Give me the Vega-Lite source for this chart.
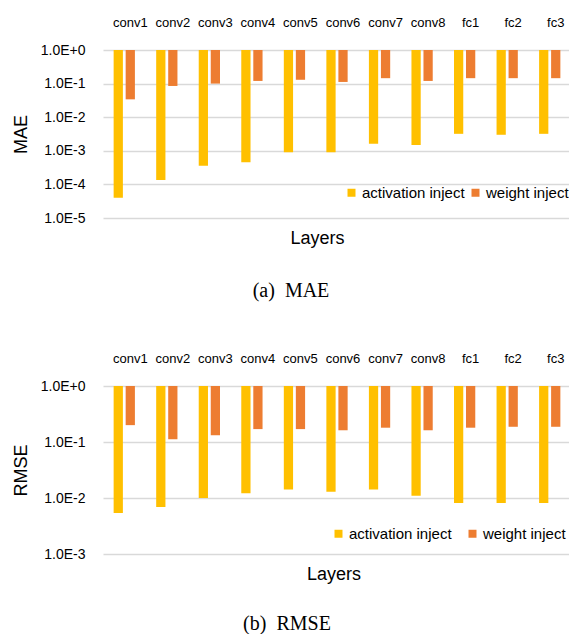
{
  "$schema": "https://vega.github.io/schema/vega-lite/v6.json",
  "background": "white",
  "padding": {"left": 12, "top": 16, "right": 0, "bottom": 0},
  "bounds": "flush",
  "spacing": 168,
  "config": {
    "view": {"stroke": null},
    "font": "Liberation Sans",
    "axis": {"labelFont": "Liberation Sans", "titleFont": "Liberation Sans", "labelColor": "#000", "titleColor": "#000", "titleFontWeight": "normal"},
    "legend": {"labelFont": "Liberation Sans", "labelColor": "#000"}
  },
  "data": {"values": [
    {"metric": "MAE", "layer": "conv1", "series": "activation inject", "value": 0.00004},
    {"metric": "MAE", "layer": "conv2", "series": "activation inject", "value": 0.000135},
    {"metric": "MAE", "layer": "conv3", "series": "activation inject", "value": 0.00036},
    {"metric": "MAE", "layer": "conv4", "series": "activation inject", "value": 0.00046},
    {"metric": "MAE", "layer": "conv5", "series": "activation inject", "value": 0.00091},
    {"metric": "MAE", "layer": "conv6", "series": "activation inject", "value": 0.0009},
    {"metric": "MAE", "layer": "conv7", "series": "activation inject", "value": 0.00163},
    {"metric": "MAE", "layer": "conv8", "series": "activation inject", "value": 0.0015},
    {"metric": "MAE", "layer": "fc1", "series": "activation inject", "value": 0.0032},
    {"metric": "MAE", "layer": "fc2", "series": "activation inject", "value": 0.003},
    {"metric": "MAE", "layer": "fc3", "series": "activation inject", "value": 0.0032},
    {"metric": "MAE", "layer": "conv1", "series": "weight inject", "value": 0.034},
    {"metric": "MAE", "layer": "conv2", "series": "weight inject", "value": 0.085},
    {"metric": "MAE", "layer": "conv3", "series": "weight inject", "value": 0.1},
    {"metric": "MAE", "layer": "conv4", "series": "weight inject", "value": 0.12},
    {"metric": "MAE", "layer": "conv5", "series": "weight inject", "value": 0.13},
    {"metric": "MAE", "layer": "conv6", "series": "weight inject", "value": 0.112},
    {"metric": "MAE", "layer": "conv7", "series": "weight inject", "value": 0.145},
    {"metric": "MAE", "layer": "conv8", "series": "weight inject", "value": 0.12},
    {"metric": "MAE", "layer": "fc1", "series": "weight inject", "value": 0.145},
    {"metric": "MAE", "layer": "fc2", "series": "weight inject", "value": 0.145},
    {"metric": "MAE", "layer": "fc3", "series": "weight inject", "value": 0.145},
    {"metric": "RMSE", "layer": "conv1", "series": "activation inject", "value": 0.0054},
    {"metric": "RMSE", "layer": "conv2", "series": "activation inject", "value": 0.0069},
    {"metric": "RMSE", "layer": "conv3", "series": "activation inject", "value": 0.01},
    {"metric": "RMSE", "layer": "conv4", "series": "activation inject", "value": 0.0122},
    {"metric": "RMSE", "layer": "conv5", "series": "activation inject", "value": 0.0142},
    {"metric": "RMSE", "layer": "conv6", "series": "activation inject", "value": 0.0129},
    {"metric": "RMSE", "layer": "conv7", "series": "activation inject", "value": 0.0142},
    {"metric": "RMSE", "layer": "conv8", "series": "activation inject", "value": 0.011},
    {"metric": "RMSE", "layer": "fc1", "series": "activation inject", "value": 0.0081},
    {"metric": "RMSE", "layer": "fc2", "series": "activation inject", "value": 0.0081},
    {"metric": "RMSE", "layer": "fc3", "series": "activation inject", "value": 0.0081},
    {"metric": "RMSE", "layer": "conv1", "series": "weight inject", "value": 0.2},
    {"metric": "RMSE", "layer": "conv2", "series": "weight inject", "value": 0.112},
    {"metric": "RMSE", "layer": "conv3", "series": "weight inject", "value": 0.132},
    {"metric": "RMSE", "layer": "conv4", "series": "weight inject", "value": 0.17},
    {"metric": "RMSE", "layer": "conv5", "series": "weight inject", "value": 0.17},
    {"metric": "RMSE", "layer": "conv6", "series": "weight inject", "value": 0.162},
    {"metric": "RMSE", "layer": "conv7", "series": "weight inject", "value": 0.18},
    {"metric": "RMSE", "layer": "conv8", "series": "weight inject", "value": 0.162},
    {"metric": "RMSE", "layer": "fc1", "series": "weight inject", "value": 0.18},
    {"metric": "RMSE", "layer": "fc2", "series": "weight inject", "value": 0.187},
    {"metric": "RMSE", "layer": "fc3", "series": "weight inject", "value": 0.187}
  ]},
  "resolve": {"scale": {"y": "independent", "color": "independent"}, "legend": {"color": "independent"}},
  "vconcat": [
    {
      "width": 468, "height": 168,
      "transform": [{"filter": "datum.metric === 'MAE'"}],
      "title": {"text": "(a) \u00a0MAE", "orient": "bottom", "font": "Liberation Serif", "fontSize": 20, "fontWeight": "normal", "color": "#000", "anchor": "middle", "dx": -46, "offset": 33},
      "mark": {"type": "bar"},
      "encoding": {
        "x": {"field": "layer", "type": "nominal", "sort": null,
          "scale": {"paddingInner": 0.5, "paddingOuter": 0.25},
          "axis": {"orient": "top", "labelAngle": 0, "labelAlign": "center", "labelBaseline": "alphabetic", "labelOffset": 6, "labelFontSize": 13, "labelPadding": 24, "labelOverlap": false, "ticks": false, "domain": false,
            "title": "Layers", "titleFontSize": 18, "titleX": 214, "titleY": 193.5, "titleAlign": "center", "titleBaseline": "alphabetic"}},
        "xOffset": {"field": "series", "type": "nominal", "sort": ["activation inject", "weight inject"], "scale": {"paddingInner": 0.23, "paddingOuter": 0}},
        "y": {"field": "value", "type": "quantitative",
          "scale": {"type": "log", "domain": [0.00001, 1], "nice": false},
          "axis": {"values": [1, 0.1, 0.01, 0.001, 0.0001, 0.00001], "labelExpr": "replace(format(datum.value, '.1e'), 'e', 'E')", "labelFontSize": 14, "labelPadding": 18, "ticks": false, "domain": false, "grid": true, "gridColor": "#d9d9d9", "gridWidth": 1.3,
            "title": "MAE", "titleFontSize": 18, "titlePadding": 10}},
        "y2": {"datum": 1},
        "color": {"field": "series", "type": "nominal",
          "scale": {"domain": ["activation inject", "weight inject"], "range": ["#FFC000", "#ED7D31"]},
          "legend": {"orient": "none", "legendX": 241, "legendY": 135, "direction": "horizontal", "title": null, "symbolType": "square", "symbolSize": 64, "symbolStrokeWidth": 0, "symbolOpacity": 1, "labelFontSize": 15, "labelOffset": 3, "columnPadding": 3}}
      }
    },
    {
      "width": 468, "height": 168,
      "transform": [{"filter": "datum.metric === 'RMSE'"}],
      "title": {"text": "(b) \u00a0RMSE", "orient": "bottom", "font": "Liberation Serif", "fontSize": 20, "fontWeight": "normal", "color": "#000", "anchor": "middle", "dx": -50, "offset": 30},
      "mark": {"type": "bar"},
      "encoding": {
        "x": {"field": "layer", "type": "nominal", "sort": null,
          "scale": {"paddingInner": 0.5, "paddingOuter": 0.25},
          "axis": {"orient": "top", "labelAngle": 0, "labelAlign": "center", "labelBaseline": "alphabetic", "labelOffset": 6, "labelFontSize": 13, "labelPadding": 24, "labelOverlap": false, "ticks": false, "domain": false,
            "title": "Layers", "titleFontSize": 18, "titleX": 230.5, "titleY": 193.5, "titleAlign": "center", "titleBaseline": "alphabetic"}},
        "xOffset": {"field": "series", "type": "nominal", "sort": ["activation inject", "weight inject"], "scale": {"paddingInner": 0.23, "paddingOuter": 0}},
        "y": {"field": "value", "type": "quantitative",
          "scale": {"type": "log", "domain": [0.001, 1], "nice": false},
          "axis": {"values": [1, 0.1, 0.01, 0.001], "labelExpr": "replace(format(datum.value, '.1e'), 'e', 'E')", "labelFontSize": 14, "labelPadding": 18, "ticks": false, "domain": false, "grid": true, "gridColor": "#d9d9d9", "gridWidth": 1.3,
            "title": "RMSE", "titleFontSize": 18, "titlePadding": 10}},
        "y2": {"datum": 1},
        "color": {"field": "series", "type": "nominal",
          "scale": {"domain": ["activation inject", "weight inject"], "range": ["#FFC000", "#ED7D31"]},
          "legend": {"orient": "none", "legendX": 228, "legendY": 140, "direction": "horizontal", "title": null, "symbolType": "square", "symbolSize": 64, "symbolStrokeWidth": 0, "symbolOpacity": 1, "labelFontSize": 15, "labelOffset": 3, "columnPadding": 13}}
      }
    }
  ]
}
